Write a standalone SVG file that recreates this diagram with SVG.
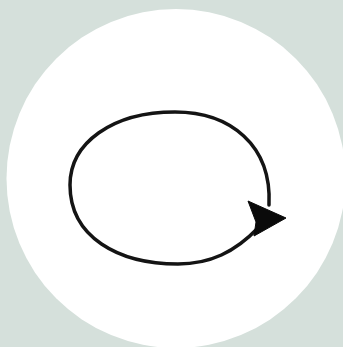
<svg xmlns="http://www.w3.org/2000/svg" width="343" height="347" viewBox="0 0 343 347">
  <style>
    .loop { fill: none; stroke: #141414; stroke-width: 3.5; stroke-linecap: round; stroke-linejoin: round; }
    .head { fill: #0a0a0a; stroke: #0a0a0a; stroke-width: 1; stroke-linejoin: round; }
  </style>
  <rect x="0" y="0" width="343" height="347" fill="#d5e0db"/>
  <g id="disc">
    <circle cx="176" cy="178.5" r="169.5" fill="#ffffff"/>
  </g>
  <g id="connectors">
    <path class="loop" d="M 258 228 C 235 252, 210 264, 178 264 C 118 264, 70 237, 70 185 C 70 143, 112 112, 175 112 C 230 112, 272 145, 269 205"/>
    <polygon class="head" points="248,201 286,218 254,236 256,222"/>
  </g>
</svg>
